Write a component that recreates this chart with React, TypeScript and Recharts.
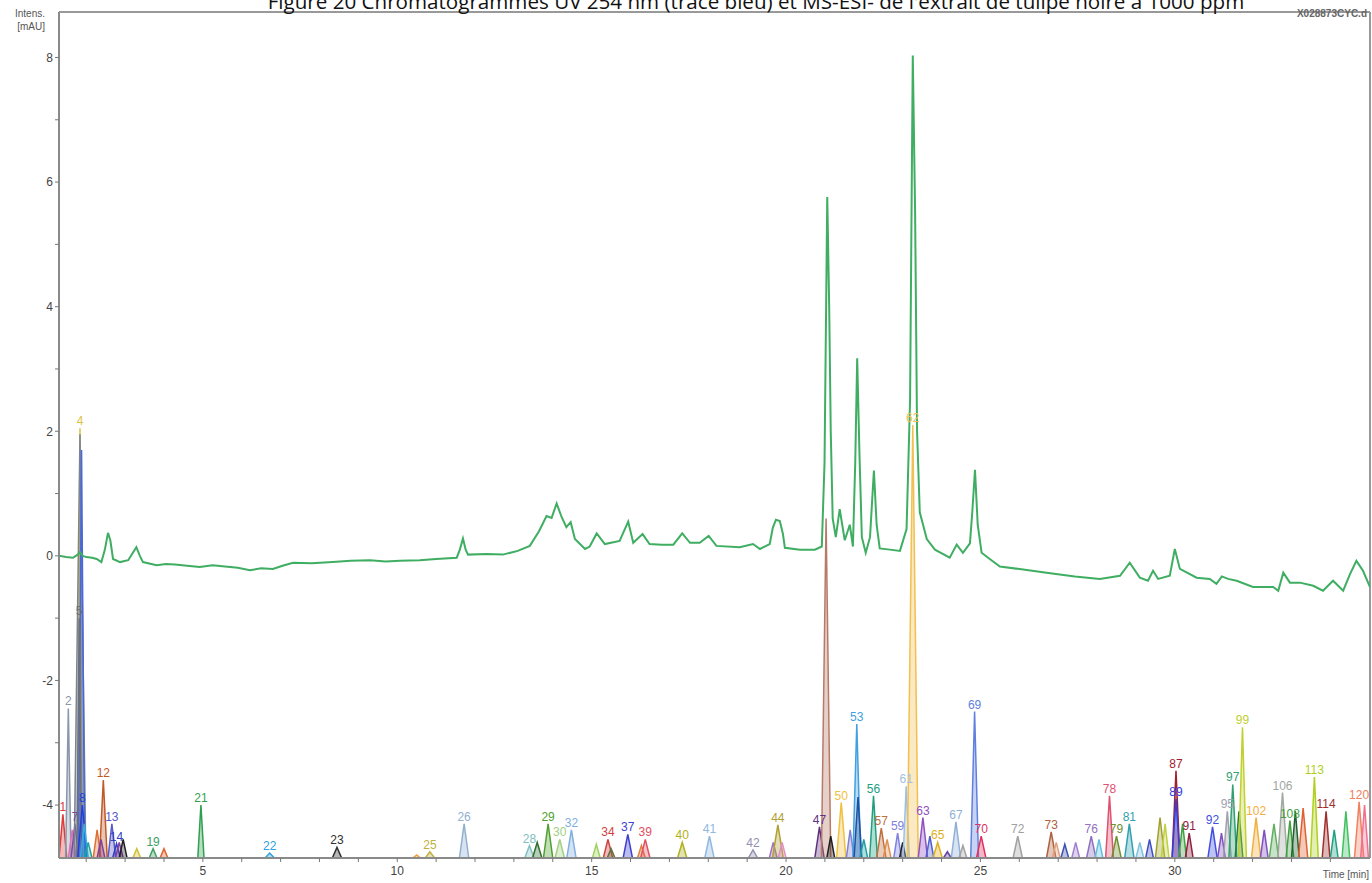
import React from 'react';
import { ComposedChart, Line, Area, Scatter, XAxis, YAxis, ReferenceLine } from 'recharts';

const TITLE = "Figure 20 Chromatogrammes UV 254 nm (tracé bleu) et MS-ESI- de l'extrait de tulipe noire à 1000 ppm";

// UV 254 nm trace (green)
const uvTime = [1.30,1.48,1.66,1.78,1.84,1.91,2.01,2.15,2.27,2.39,2.48,2.56,2.62,2.69,2.87,3.08,3.20,3.29,3.38,3.46,3.81,4.05,4.28,4.60,4.92,5.25,5.57,5.90,6.21,6.50,6.80,7.05,7.32,7.80,8.34,8.80,9.30,9.70,10.07,10.58,11.00,11.53,11.61,11.69,11.76,11.82,12.30,12.72,13.10,13.41,13.65,13.84,13.97,14.10,14.23,14.35,14.46,14.57,14.83,14.95,15.13,15.34,15.72,15.94,16.07,16.31,16.49,16.80,17.10,17.33,17.53,17.78,18.01,18.21,18.81,19.15,19.33,19.58,19.66,19.74,19.84,19.92,19.97,20.36,20.74,20.92,20.99,21.06,21.11,21.15,21.20,21.28,21.38,21.51,21.64,21.72,21.78,21.83,21.89,21.95,22.05,22.16,22.26,22.33,22.41,22.67,22.93,23.10,23.19,23.26,23.32,23.37,23.44,23.62,23.83,24.21,24.39,24.55,24.73,24.79,24.86,24.93,25.03,25.24,25.50,26.10,26.70,27.43,28.07,28.59,28.84,29.10,29.31,29.44,29.57,29.87,30.00,30.13,30.56,30.90,31.07,31.21,31.37,31.59,32.01,32.53,32.66,32.79,32.96,33.22,33.56,33.81,34.07,34.33,34.50,34.67,34.84,35.02];
const uvAbs = [0.00,-0.02,-0.03,0.02,0.06,0.00,-0.02,-0.03,-0.05,-0.10,0.10,0.37,0.25,-0.05,-0.10,-0.07,0.05,0.14,0.00,-0.10,-0.15,-0.13,-0.14,-0.16,-0.18,-0.15,-0.17,-0.19,-0.23,-0.20,-0.21,-0.16,-0.11,-0.12,-0.10,-0.08,-0.07,-0.09,-0.08,-0.07,-0.05,-0.03,0.10,0.28,0.10,0.02,0.03,0.02,0.08,0.16,0.40,0.64,0.61,0.84,0.62,0.46,0.54,0.27,0.11,0.15,0.36,0.19,0.24,0.55,0.21,0.35,0.19,0.18,0.18,0.36,0.21,0.21,0.32,0.16,0.14,0.19,0.11,0.19,0.45,0.58,0.56,0.35,0.13,0.10,0.10,0.15,1.50,5.76,4.00,2.00,0.60,0.30,0.75,0.25,0.50,0.15,1.50,3.17,1.60,0.30,0.05,0.30,1.37,0.50,0.12,0.10,0.08,0.43,2.50,8.03,5.50,2.00,0.70,0.27,0.10,-0.03,0.18,0.05,0.20,0.70,1.38,0.50,0.05,-0.05,-0.17,-0.22,-0.27,-0.33,-0.37,-0.32,-0.11,-0.35,-0.40,-0.24,-0.37,-0.32,0.11,-0.21,-0.35,-0.37,-0.45,-0.33,-0.37,-0.40,-0.50,-0.50,-0.56,-0.27,-0.43,-0.43,-0.48,-0.56,-0.40,-0.56,-0.30,-0.08,-0.24,-0.50];

// MS-ESI- extracted peaks
const msTime = [1.40,1.54,1.64,1.71,1.84,1.84,1.88,1.82,1.90,1.95,2.05,2.28,2.44,2.38,2.66,2.78,2.85,2.95,3.30,3.72,4.00,4.95,6.72,8.45,10.50,10.84,11.72,13.40,13.60,13.88,14.18,14.48,15.12,15.42,15.50,15.93,16.28,16.38,17.33,18.03,19.15,19.67,19.79,19.90,20.86,21.03,21.15,21.42,21.65,21.82,21.85,22.00,22.25,22.45,22.60,22.87,23.00,23.09,23.26,23.52,23.70,23.90,24.15,24.37,24.55,24.85,25.02,25.96,26.82,26.95,27.17,27.45,27.85,28.05,28.32,28.50,28.83,29.10,29.35,29.62,29.75,30.03,30.03,30.20,30.37,30.97,31.20,31.35,31.49,31.65,31.74,32.09,32.30,32.55,32.77,32.96,33.10,33.30,33.59,33.89,34.10,34.40,34.74,34.88];
const msApex = [-4.15,-2.45,-4.40,-4.30,2.05,1.95,1.70,-1.00,-4.00,-4.30,-4.60,-4.40,-3.60,-4.55,-4.30,-4.62,-4.60,-4.55,-4.70,-4.70,-4.70,-4.00,-4.77,-4.68,-4.80,-4.75,-4.30,-4.65,-4.60,-4.30,-4.55,-4.40,-4.63,-4.55,-4.70,-4.47,-4.65,-4.55,-4.60,-4.50,-4.72,-4.60,-4.32,-4.60,-4.35,0.60,-4.50,-3.96,-4.40,-2.70,-3.87,-4.55,-3.85,-4.37,-4.55,-4.45,-4.60,-3.70,2.10,-4.20,-4.50,-4.60,-4.75,-4.27,-4.65,-2.50,-4.50,-4.50,-4.43,-4.60,-4.63,-4.60,-4.50,-4.55,-3.85,-4.50,-4.30,-4.60,-4.55,-4.20,-4.30,-3.45,-3.90,-4.30,-4.45,-4.35,-4.45,-4.10,-3.67,-4.10,-2.75,-4.20,-4.40,-4.30,-3.80,-4.25,-4.10,-4.05,-3.55,-4.10,-4.40,-4.10,-3.95,-4.00];
const msLabel = ["1","2","","7","4","","","5","8","","","","12","","13","14","","","","19","","21","22","23","","25","26","28","","29","30","32","","34","","37","","39","40","41","42","","44","","47","","","50","","53","","","56","57","","59","","61","62","63","","65","","67","","69","70","72","73","","","","76","","78","79","81","","","","","87","89","","91","92","","95","97","","99","102","","","106","108","","","113","114","","","120",""];
const msHalfWidth = [0.10,0.07,0.10,0.10,0.06,0.15,0.08,0.06,0.12,0.10,0.10,0.10,0.10,0.10,0.10,0.10,0.10,0.10,0.10,0.10,0.10,0.08,0.12,0.12,0.10,0.12,0.12,0.12,0.12,0.12,0.12,0.12,0.10,0.12,0.10,0.12,0.10,0.12,0.12,0.12,0.12,0.10,0.14,0.10,0.12,0.12,0.10,0.12,0.10,0.10,0.10,0.10,0.10,0.12,0.10,0.10,0.08,0.08,0.14,0.12,0.10,0.12,0.10,0.12,0.10,0.10,0.12,0.12,0.12,0.10,0.10,0.10,0.12,0.10,0.10,0.12,0.12,0.10,0.10,0.12,0.10,0.10,0.10,0.10,0.10,0.12,0.10,0.10,0.10,0.10,0.10,0.12,0.10,0.12,0.12,0.10,0.10,0.12,0.10,0.10,0.10,0.10,0.12,0.10];
const msColor = ["#e03a3a","#8a97ab","#e070b0","#7050a0","#d8c445","#7c8490","#4a68d8","#6a7080","#2040e0","#30b0e0","#20a0a0","#e07030","#c05a28","#8040a0","#5a5ac8","#3040c0","#8040a0","#202020","#d0c030","#40a060","#e06030","#30a050","#30a0e0","#303030","#f0a040","#c0b040","#90b0d0","#80c0c0","#307030","#50a030","#a0d080","#80b0e0","#a0d060","#d04040","#607040","#4040d0","#e08040","#e05060","#b0b020","#90b8e0","#9090b0","#a070c0","#b0a030","#e090c0","#603080","#b87a68","#202020","#f0c040","#8080d0","#40a0e0","#2050a0","#20a0a0","#20a080","#c07040","#e09050","#8080e0","#202020","#a0c0e0","#f0c050","#9050c0","#5060d0","#e0b020","#6040a0","#90b0d8","#a0a0a0","#6080e0","#e03060","#a0a0a0","#b06040","#e0a080","#4050b0","#a080d0","#9070c0","#60c0e0","#e05070","#709030","#30a0b0","#80c0e0","#4050c0","#a0a030","#c0d040","#a02030","#3040e0","#40a040","#902040","#4050e0","#8050c0","#a0a0b0","#30a070","#208040","#c0d030","#f0b040","#8050c0","#60b060","#a0a8a0","#40a040","#206030","#e06030","#b0d020","#a03030","#20a080","#40c060","#f08060","#f07090"];

const xTicks = [2,3,4,5,6,7,8,9,10,11,12,13,14,15,16,17,18,19,20,21,22,23,24,25,26,27,28,29,30,31,32,33,34];
const yTicks = [-4,-3,-2,-1,0,1,2,3,4,5,6,7,8];

const XMIN = 1.3, XMAX = 35.02, YMIN = -4.85, YMAX = 8.73;
const FONT = "'Liberation Sans', Arial, sans-serif";

export default function App() {
  const uvData = uvTime.map((t, i) => ({ t, v: uvAbs[i] }));
  const peaks = msTime.map((t, i) => ({ t, v: msApex[i], label: msLabel[i], color: msColor[i], w: msHalfWidth[i] }));
  const labelData = peaks.filter(p => p.label !== "");

  return (
    <div style={{ position: 'absolute', left: 0, top: 0, width: 1372, height: 883, background: '#fff' }}>
      <ComposedChart width={1372} height={883} margin={{ top: 12, right: 2, bottom: 0, left: 0 }}>
        <XAxis type="number" dataKey="t" domain={[XMIN, XMAX]} allowDataOverflow ticks={xTicks}
          tickFormatter={(v: number) => (v % 5 === 0 ? String(v) : '')} height={25}
          axisLine={{ stroke: '#8a8a8a', strokeWidth: 2 }} tickLine={{ stroke: '#777' }} tickSize={4} tickMargin={4}
          tick={{ fontSize: 12, fill: '#444', fontFamily: FONT }} />
        <YAxis type="number" dataKey="v" domain={[YMIN, YMAX]} allowDataOverflow ticks={yTicks}
          tickFormatter={(v: number) => (v % 2 === 0 ? String(v) : '')} width={59}
          axisLine={{ stroke: '#8a8a8a', strokeWidth: 2 }} tickLine={{ stroke: '#777' }} tickSize={4} tickMargin={2}
          tick={{ fontSize: 12, fill: '#444', fontFamily: FONT }} />
        <ReferenceLine y={YMAX} stroke="#999" strokeWidth={2} />
        <ReferenceLine x={XMAX} stroke="#999" strokeWidth={2} />
        {peaks.map((p, i) => (
          <Area key={'ms' + i} data={[{ t: p.t - p.w, v: YMIN }, { t: p.t, v: p.v }, { t: p.t + p.w, v: YMIN }]}
            dataKey="v" type="linear" stroke={p.color} strokeWidth={1.5} fill={p.color} fillOpacity={0.35}
            baseValue={YMIN} dot={false} activeDot={false} isAnimationActive={false} />
        ))}
        <Line data={uvData} dataKey="v" type="linear" stroke="#3fae62" strokeWidth={2} dot={false} activeDot={false} isAnimationActive={false} />
        <Scatter data={labelData} dataKey="v" isAnimationActive={false}
          shape={(props: any) => (
            <text x={props.cx} y={props.cy - 3} textAnchor="middle" fontSize={12} fontFamily={FONT} fill={props.payload.color}>
              {props.payload.label}
            </text>
          )} />
      </ComposedChart>
      <svg width={1372} height={883} style={{ position: 'absolute', left: 0, top: 0, pointerEvents: 'none' }}>
        <text x={756} y={9} textAnchor="middle" fontSize={20.6} fontFamily="'Open Sans', 'Noto Sans', sans-serif" fill="#111">{TITLE}</text>
        <text x={45} y={17} textAnchor="end" fontSize={10} fontFamily={FONT} fill="#555">Intens.</text>
        <text x={45} y={30} textAnchor="end" fontSize={10} fontFamily={FONT} fill="#555">[mAU]</text>
        <text x={1367} y={17} textAnchor="end" fontSize={10} fontFamily={FONT} fill="#666" fontWeight="bold">X028873CYC.d</text>
        <text x={1369} y={878} textAnchor="end" fontSize={10} fontFamily={FONT} fill="#555">Time [min]</text>
      </svg>
    </div>
  );
}
